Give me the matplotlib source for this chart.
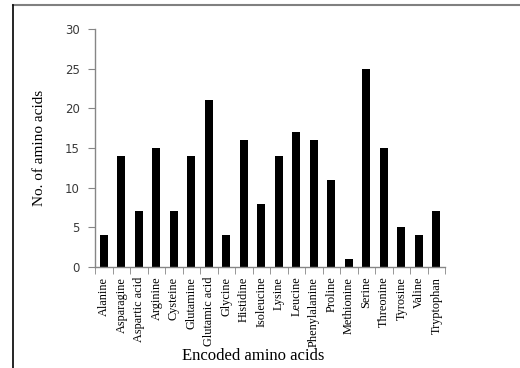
import matplotlib.pyplot as plt
from matplotlib.lines import Line2D

amino_acids = ["Alanine", "Asparagine", "Aspartic acid", "Arginine", "Cysteine",
               "Glutamine", "Glutamic acid", "Glycine", "Histidine", "Isoleucine",
               "Lysine", "Leucine", "Phenylalanine", "Proline", "Methionine",
               "Serine", "Threonine", "Tyrosine", "Valine", "Tryptophan"]
counts = [4, 14, 7, 15, 7, 14, 21, 4, 16, 8, 14, 17, 16, 11, 1, 25, 15, 5, 4, 7]
y_ticks = [0, 5, 10, 15, 20, 25, 30]

serif = "Liberation Serif"
axis_grey = "#868686"

fig = plt.figure(figsize=(5.2, 3.68), dpi=100)
ax = fig.add_axes([0.183, 0.2745, 0.673, 0.6465])

x = range(len(amino_acids))
ax.bar(x, counts, width=0.46, color="black")

ax.set_xlim(-0.5, len(amino_acids) - 0.5)
ax.set_ylim(0, 30)
ax.set_yticks(y_ticks)
ax.set_yticklabels([str(t) for t in y_ticks], fontsize=8.5, color="#3a3a3a",
                   fontfamily="DejaVu Sans")

# category names under the bars, tick marks between them
ax.set_xticks(list(x))
ax.set_xticklabels(amino_acids, rotation=90, fontsize=8.8, fontfamily=serif)
ax.tick_params(axis="x", which="major", length=0, pad=7)
ax.set_xticks([i - 0.5 for i in range(len(amino_acids) + 1)], minor=True)
ax.tick_params(axis="x", which="minor", direction="out", length=5, color=axis_grey)
ax.tick_params(axis="y", direction="out", length=5, color=axis_grey, pad=6)

for side in ["top", "right"]:
    ax.spines[side].set_visible(False)
for side in ["left", "bottom"]:
    ax.spines[side].set_color(axis_grey)
    ax.spines[side].set_linewidth(1.0)

ax.set_ylabel("No. of amino acids", fontsize=11, fontfamily=serif, labelpad=14)
fig.text(0.487, 0.012, "Encoded amino acids", fontsize=12, fontfamily=serif,
         ha="center", va="bottom")

# frame lines at the top and left of the figure
fig.add_artist(Line2D([13 / 520, 1], [1 - 5 / 368, 1 - 5 / 368],
                      transform=fig.transFigure, color="#808080", linewidth=1.5))
fig.add_artist(Line2D([13 / 520, 13 / 520], [0, 1 - 5 / 368],
                      transform=fig.transFigure, color="black", linewidth=1.2))

fig.savefig("out.png", dpi=100)
